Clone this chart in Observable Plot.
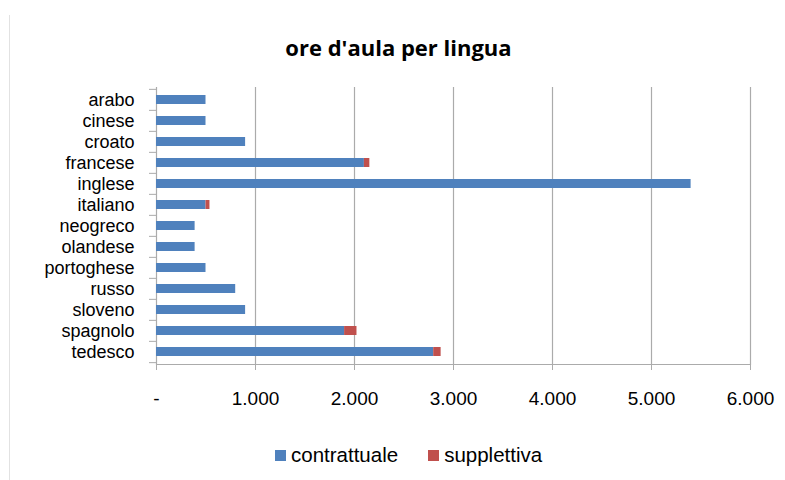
<!DOCTYPE html>
<html>
<head>
<meta charset="utf-8">
<script src="https://cdn.jsdelivr.net/npm/d3@7"></script>
<script src="https://cdn.jsdelivr.net/npm/@observablehq/plot@0.6"></script>
<style>
  html, body { margin: 0; padding: 0; background: #fff; }
  #wrap { position: relative; width: 785px; height: 480px; font-family: 'Liberation Sans', sans-serif; color: #000; overflow: hidden; background: #fff; }
  #border { position: absolute; left: 9px; top: 15px; width: 0; height: 470px; border-left: 1px solid #e2e2e2; z-index: 5; }
  #title { position: absolute; top: 33px; left: 6px; width: 785px; text-align: center; font-family: 'Open Sans', sans-serif; font-weight: bold; font-size: 22px; line-height: 28px; }
  #plot { position: absolute; top: 70px; left: 0; }
  #legend { position: absolute; top: 443px; left: 275px; font-size: 20.5px; line-height: 24px; display: flex; align-items: center; }
  .item { display: flex; align-items: center; margin-right: 30px; }
  .sw { width: 11px; height: 11px; margin-right: 5px; }
</style>
</head>
<body>
<div id="wrap">
  <div id="border"></div>
  <div id="title">ore d'aula per lingua</div>
  <div id="plot"></div>
  <div id="legend"></div>
</div>
<script>
const categories = ["arabo","cinese","croato","francese","inglese","italiano","neogreco","olandese","portoghese","russo","sloveno","spagnolo","tedesco"];
const contrattuale = [500, 500, 900, 2100, 5400, 500, 390, 390, 500, 800, 900, 1900, 2800];
const supplettiva  = [0, 0, 0, 55, 0, 40, 0, 0, 0, 0, 0, 125, 75];
const series = ["contrattuale", "supplettiva"];
const colors = ["#4F81BD", "#C0504D"];
const xTicks = [0, 1000, 2000, 3000, 4000, 5000, 6000];

const data = [];
categories.forEach((c, i) => {
  data.push({lingua: c, serie: series[0], ore: contrattuale[i]});
  data.push({lingua: c, serie: series[1], ore: supplettiva[i]});
});

const W = 785, H = 360, mt = 17, mb = 66, ml = 156, mr = 35;
const step = (H - mt - mb) / categories.length;
const fmt = d => d === 0 ? "-" : d3.format(",")(d).replace(/,/g, ".");
const gray = "#ababab";

const chart = Plot.plot({
  width: W, height: H,
  marginTop: mt, marginBottom: mb, marginLeft: ml, marginRight: mr,
  style: {fontFamily: "'Liberation Sans', sans-serif", fontSize: "18px", color: "#000", background: "transparent"},
  x: {domain: [0, 6000]},
  y: {domain: categories, paddingInner: 0.58, paddingOuter: 0.29},
  color: {domain: series, range: colors},
  marks: [
    Plot.gridX(xTicks, {stroke: gray, strokeOpacity: 1, strokeWidth: 1.2}),
    Plot.frame({anchor: "bottom", stroke: gray, strokeWidth: 1.2}),
    Plot.axisX(xTicks, {tickSize: 6, tickPadding: 21, stroke: gray, tickFormat: fmt, fontSize: 19, fill: "#000", label: null}),
    Plot.axisY({tickSize: 7, dy: -step / 2, tickFormat: () => "", stroke: gray, label: null}),
    Plot.axisY([categories[categories.length - 1]], {tickSize: 7, dy: step / 2, tickFormat: () => "", stroke: gray, label: null}),
    Plot.axisY({tickSize: 0, tickPadding: 22, fontSize: 18, fill: "#000", label: null}),
    Plot.barX(data, {x: "ore", y: "lingua", fill: "serie"})
  ]
});
document.getElementById("plot").appendChild(chart);

const legend = document.getElementById("legend");
series.forEach((s, i) => {
  const it = document.createElement("div");
  it.className = "item";
  const sw = document.createElement("div");
  sw.className = "sw";
  sw.style.background = colors[i];
  const tx = document.createElement("span");
  tx.textContent = s;
  it.appendChild(sw); it.appendChild(tx);
  legend.appendChild(it);
});
</script>
</body>
</html>
